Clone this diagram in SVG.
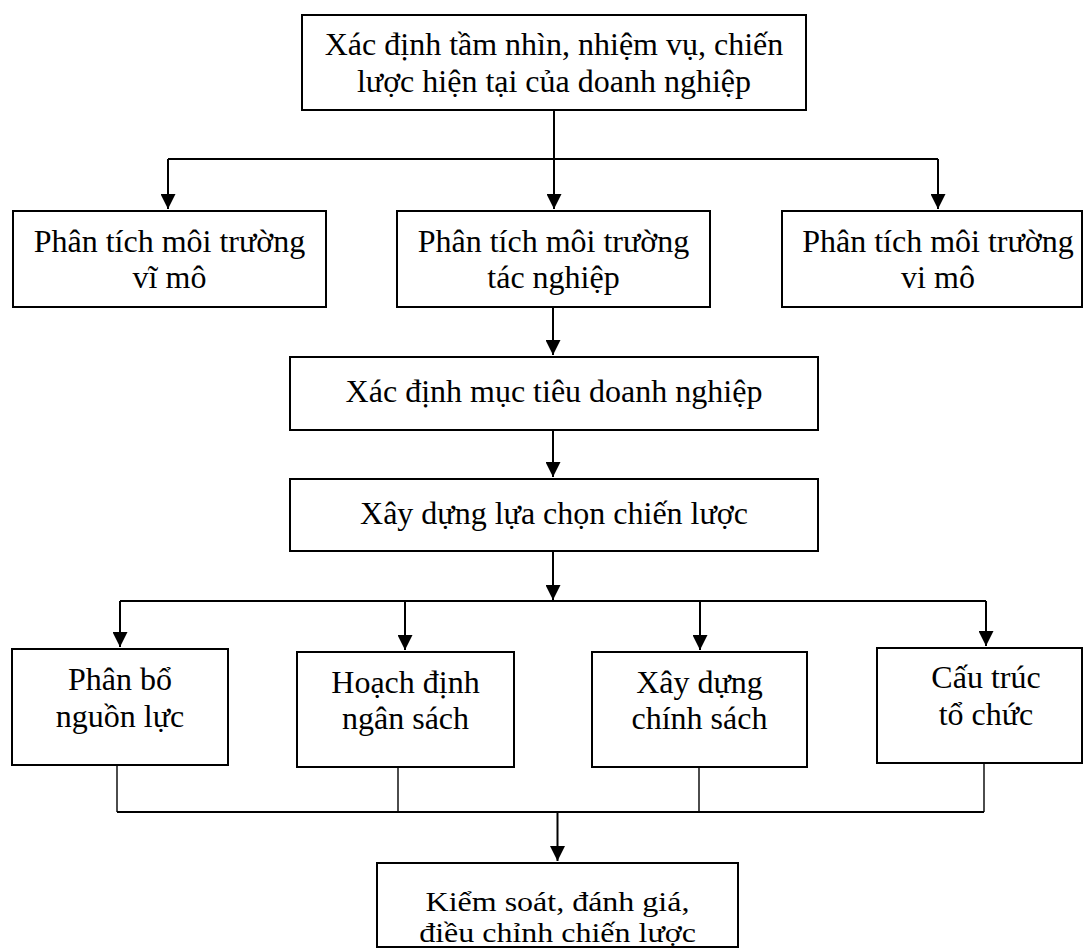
<svg xmlns="http://www.w3.org/2000/svg" width="1084" height="950" viewBox="0 0 1084 950">
<style>
  .box { fill: #ffffff; stroke: #000000; stroke-width: 2; }
  .t { font-family: "Liberation Serif", "Times New Roman", serif; font-size: 32px; fill: #000000; text-anchor: middle; }
  .c { fill: none; stroke: #000000; stroke-width: 2; }
  .thin { fill: none; stroke: #000000; stroke-width: 1.4; }
</style>
<defs>
  <marker id="ah" markerWidth="15" markerHeight="15" refX="15" refY="7.5" orient="auto" markerUnits="userSpaceOnUse">
    <path d="M0,0 L15,7.5 L0,15 z" fill="#000000"/>
  </marker>
</defs>
<rect width="1084" height="950" fill="#ffffff"/>

<g id="connectors">
  <line class="c" x1="554" y1="110" x2="554" y2="159"/>
  <line class="c" x1="168" y1="159" x2="938" y2="159"/>
  <line class="c" x1="168" y1="159" x2="168" y2="209" marker-end="url(#ah)"/>
  <line class="c" x1="554" y1="159" x2="554" y2="209" marker-end="url(#ah)"/>
  <line class="c" x1="938" y1="159" x2="938" y2="209" marker-end="url(#ah)"/>
  <line class="c" x1="553" y1="307" x2="553" y2="355" marker-end="url(#ah)"/>
  <line class="c" x1="553" y1="430" x2="553" y2="477" marker-end="url(#ah)"/>
  <line class="c" x1="553" y1="551" x2="553" y2="600" marker-end="url(#ah)"/>
  <line class="c" x1="120" y1="601" x2="986" y2="601"/>
  <line class="c" x1="120" y1="601" x2="120" y2="647" marker-end="url(#ah)"/>
  <line class="c" x1="405" y1="601" x2="405" y2="650" marker-end="url(#ah)"/>
  <line class="c" x1="700" y1="601" x2="700" y2="650" marker-end="url(#ah)"/>
  <line class="c" x1="986" y1="601" x2="986" y2="646" marker-end="url(#ah)"/>
  <line class="thin" x1="117" y1="765" x2="117" y2="812"/>
  <line class="thin" x1="398" y1="767" x2="398" y2="812"/>
  <line class="thin" x1="699" y1="767" x2="699" y2="812"/>
  <line class="thin" x1="984" y1="763" x2="984" y2="812"/>
  <line class="c" x1="117" y1="812" x2="984" y2="812"/>
  <line class="c" x1="557.5" y1="812" x2="557.5" y2="861" marker-end="url(#ah)"/>
</g>

<g id="n-top">
  <rect class="box" x="302" y="15" width="504" height="95"/>
  <text class="t" x="554" y="55">Xác định tầm nhìn, nhiệm vụ, chiến</text>
  <text class="t" x="554" y="92">lược hiện tại của doanh nghiệp</text>
</g>

<g id="n-vimo1">
  <rect class="box" x="13" y="211" width="313" height="96"/>
  <text class="t" x="169.5" y="252">Phân tích môi trường</text>
  <text class="t" x="169.5" y="288">vĩ mô</text>
</g>

<g id="n-tacnghiep">
  <rect class="box" x="397" y="211" width="313" height="96"/>
  <text class="t" x="553.5" y="252">Phân tích môi trường</text>
  <text class="t" x="553.5" y="288">tác nghiệp</text>
</g>

<g id="n-vimo2">
  <rect class="box" x="782" y="211" width="300" height="96"/>
  <text class="t" x="938" y="252">Phân tích môi trường</text>
  <text class="t" x="938" y="288">vi mô</text>
</g>

<g id="n-muctieu">
  <rect class="box" x="290" y="357" width="528" height="73"/>
  <text class="t" x="554" y="402">Xác định mục tiêu doanh nghiệp</text>
</g>

<g id="n-luachon">
  <rect class="box" x="290" y="479" width="528" height="72"/>
  <text class="t" x="554" y="524">Xây dựng lựa chọn chiến lược</text>
</g>

<g id="n-phanbo">
  <rect class="box" x="12" y="649" width="216" height="116"/>
  <text class="t" x="120" y="690">Phân bổ</text>
  <text class="t" x="120" y="727">nguồn lực</text>
</g>

<g id="n-hoachdinh">
  <rect class="box" x="297" y="652" width="217" height="115"/>
  <text class="t" x="405.5" y="693">Hoạch định</text>
  <text class="t" x="405.5" y="729">ngân sách</text>
</g>

<g id="n-chinhsach">
  <rect class="box" x="592" y="652" width="215" height="115"/>
  <text class="t" x="699.5" y="693">Xây dựng</text>
  <text class="t" x="699.5" y="729">chính sách</text>
</g>

<g id="n-cautruc">
  <rect class="box" x="877" y="648" width="205" height="115"/>
  <text class="t" x="986" y="688">Cấu trúc</text>
  <text class="t" x="986" y="725">tổ chức</text>
</g>

<g id="n-kiemsoat">
  <rect class="box" x="377" y="863" width="361" height="84"/>
  <text class="t" transform="matrix(1,0,0,0.88,557.5,911)" x="0" y="0">Kiểm soát, đánh giá,</text>
  <text class="t" transform="matrix(1,0,0,0.88,557.5,942)" x="0" y="0">điều chỉnh chiến lược</text>
</g>
</svg>
